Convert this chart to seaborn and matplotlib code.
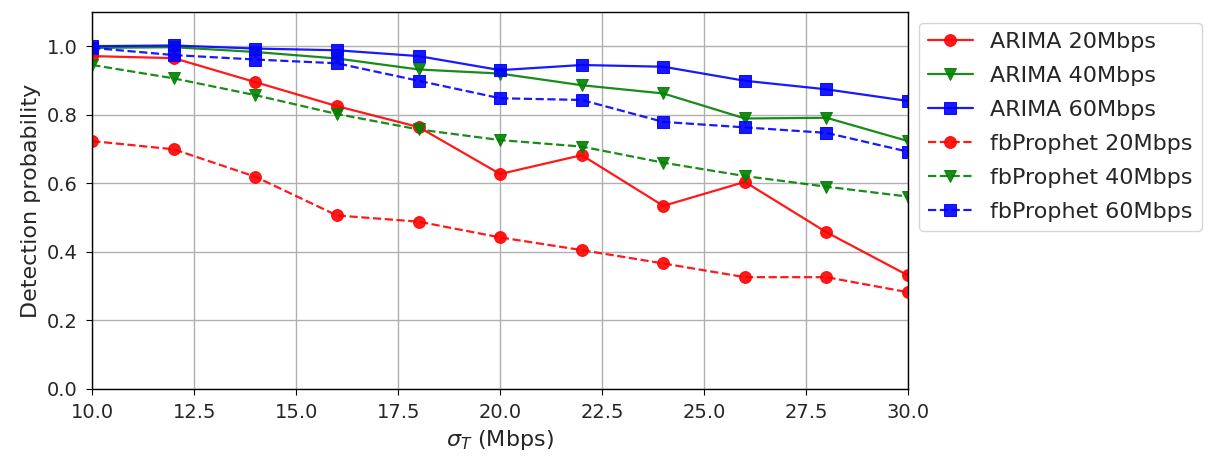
import matplotlib
matplotlib.use("Agg")
import matplotlib.pyplot as plt
import seaborn as sns
import pandas as pd

sigma_t = [10, 12, 14, 16, 18, 20, 22, 24, 26, 28, 30]

arima_20 = [0.971, 0.965, 0.895, 0.825, 0.764, 0.627, 0.682, 0.534, 0.604, 0.457, 0.331]
arima_40 = [0.995, 0.997, 0.983, 0.964, 0.932, 0.920, 0.886, 0.862, 0.789, 0.791, 0.723]
arima_60 = [1.000, 1.002, 0.993, 0.988, 0.971, 0.930, 0.945, 0.940, 0.899, 0.874, 0.840]
prophet_20 = [0.723, 0.699, 0.619, 0.506, 0.488, 0.442, 0.405, 0.366, 0.326, 0.326, 0.282]
prophet_40 = [0.945, 0.906, 0.857, 0.802, 0.757, 0.726, 0.707, 0.660, 0.621, 0.590, 0.561]
prophet_60 = [0.995, 0.974, 0.961, 0.950, 0.899, 0.848, 0.843, 0.779, 0.763, 0.747, 0.692]

series = [
    ("ARIMA 20Mbps", arima_20, "red", "o", "-"),
    ("ARIMA 40Mbps", arima_40, "green", "v", "-"),
    ("ARIMA 60Mbps", arima_60, "blue", "s", "-"),
    ("fbProphet 20Mbps", prophet_20, "red", "o", "--"),
    ("fbProphet 40Mbps", prophet_40, "green", "v", "--"),
    ("fbProphet 60Mbps", prophet_60, "blue", "s", "--"),
]

sns.set_style("ticks")
plt.rcParams["font.family"] = ["DejaVu Sans"]

fig, ax = plt.subplots(figsize=(12.14, 4.57), dpi=100)
fig.subplots_adjust(left=0.076, right=0.748, top=0.974, bottom=0.149)

for label, values, color, marker, ls in series:
    df = pd.DataFrame({"sigma": sigma_t, "prob": values})
    sns.lineplot(data=df, x="sigma", y="prob", ax=ax, color=color, marker=marker,
                 linestyle=ls, linewidth=1.6, markersize=8.5 if marker != "s" else 9,
                 markeredgecolor=color, alpha=0.9, label=label)

ax.set_xlim(10, 30)
ax.set_ylim(0, 1.1)
ax.set_yticks([0.0, 0.2, 0.4, 0.6, 0.8, 1.0])
ax.set_xticks([10, 12.5, 15, 17.5, 20, 22.5, 25, 27.5, 30])
ax.set_xticklabels(["10.0", "12.5", "15.0", "17.5", "20.0", "22.5", "25.0", "27.5", "30.0"])
ax.grid(True, color="#b0b0b0", linewidth=1.0)
ax.tick_params(labelsize=14, direction="out", length=4.5, pad=6, color="black")
for sp in ax.spines.values():
    sp.set_color("black")
    sp.set_linewidth(1.0)

ax.set_xlabel(r"$\sigma_T$ (Mbps)", fontsize=16)
ax.set_ylabel("Detection probability", fontsize=16)

leg = ax.legend(loc="upper left", bbox_to_anchor=(1.0, 1.0), fontsize=16,
                frameon=True, fancybox=True, framealpha=0.8, handlelength=2.0,
                labelspacing=0.63)
leg.get_frame().set_edgecolor("#cccccc")

fig.savefig("out.png", dpi=100)
